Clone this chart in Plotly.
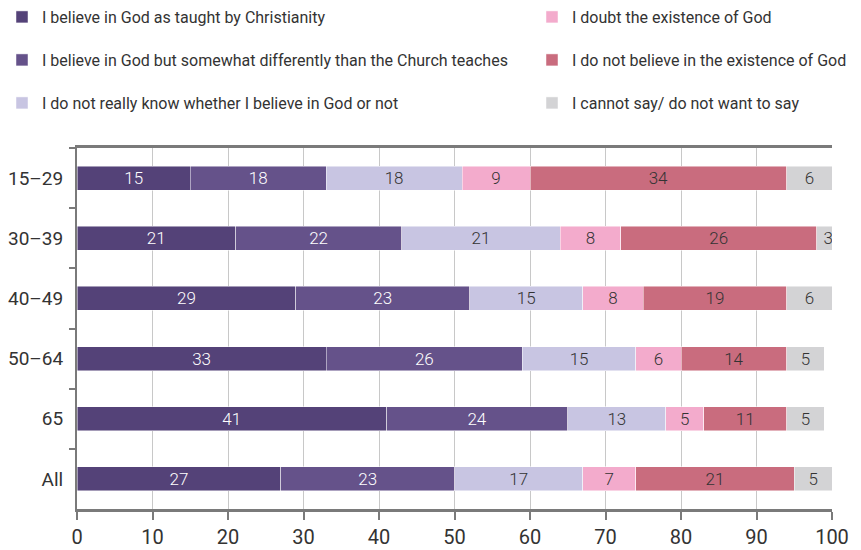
import plotly.graph_objects as go

# Age groups and shares (%) of each answer
age_groups = ["15–29", "30–39", "40–49", "50–64", "65", "All"]
as_taught = [15, 21, 29, 33, 41, 27]
differently = [18, 22, 23, 26, 24, 23]
dont_know = [18, 21, 15, 15, 13, 17]
doubt = [9, 8, 8, 6, 5, 7]
not_believe = [34, 26, 19, 14, 11, 21]
cannot_say = [6, 3, 6, 5, 5, 5]

x_ticks = [0, 10, 20, 30, 40, 50, 60, 70, 80, 90, 100]

FONT = "Roboto, Arial, sans-serif"
DARK = "#333333"

# name, values, colour, label colour, legend slot (column, row)
series = [
    ("I believe in God as taught by Christianity", as_taught, "#544278", "white", (0, 0)),
    ("I believe in God but somewhat differently than the Church teaches", differently, "#65528a", "white", (0, 1)),
    ("I do not really know whether I believe in God or not", dont_know, "#c8c5e2", DARK, (0, 2)),
    ("I doubt the existence of God", doubt, "#f3abcc", DARK, (1, 0)),
    ("I do not believe in the existence of God", not_believe, "#c96c7e", DARK, (1, 1)),
    ("I cannot say/ do not want to say", cannot_say, "#d3d3d5", DARK, (1, 2)),
]

col_x = [2, 532]          # legend left edges (px)
row_y = [17, 60, 103]     # legend row centres (px from top)
W, H = 861, 550

fig = go.Figure()
legends = {}
for i, (name, vals, color, tcolor, (col, row)) in enumerate(series):
    key = "legend" if i == 0 else f"legend{i + 1}"
    fig.add_trace(go.Bar(
        name=name,
        y=age_groups,
        x=vals,
        orientation="h",
        showlegend=True,
        marker=dict(color=color, line=dict(color="rgba(255,255,255,0.6)", width=0.8)),
        text=[str(v) for v in vals],
        textposition="inside",
        textangle=0,
        insidetextanchor="middle",
        textfont=dict(color=tcolor, size=17, family=FONT, weight=300),
        legend=key,
        hoverinfo="skip",
    ))
    legends[key] = dict(
        orientation="h",
        xref="container",
        yref="container",
        x=col_x[col] / W,
        y=1 - row_y[row] / H,
        xanchor="left",
        yanchor="middle",
        font=dict(size=16, color=DARK, family=FONT),
        bgcolor="rgba(0,0,0,0)",
        itemclick=False,
        itemdoubleclick=False,
    )

fig.update_layout(
    width=W,
    height=H,
    showlegend=True,
    barmode="stack",
    bargap=0.6,
    plot_bgcolor="white",
    paper_bgcolor="white",
    margin=dict(l=77, r=29, t=148, b=41, autoexpand=False),
    font=dict(family=FONT, color=DARK),
    uniformtext=dict(minsize=17, mode="show"),
    xaxis=dict(
        range=[0, 100],
        tickvals=x_ticks,
        ticktext=[str(t) for t in x_ticks],
        showgrid=True,
        gridcolor="#c8c8c8",
        gridwidth=1.2,
        showline=True,
        linecolor="#7a7a7a",
        linewidth=2.5,
        mirror=True,
        ticks="outside",
        ticklen=8,
        tickwidth=2,
        tickcolor="#7a7a7a",
        tickfont=dict(size=20, color=DARK, family=FONT),
        zeroline=False,
    ),
    yaxis=dict(
        autorange="reversed",
        showline=True,
        linecolor="#7a7a7a",
        linewidth=2,
        ticks="outside",
        tickson="boundaries",
        ticklen=6,
        tickwidth=2,
        tickcolor="#7a7a7a",
        tickfont=dict(size=19, color=DARK, family=FONT),
        ticklabelstandoff=8,
        showgrid=False,
    ),
    **legends,
)

fig.write_html("out.html")
